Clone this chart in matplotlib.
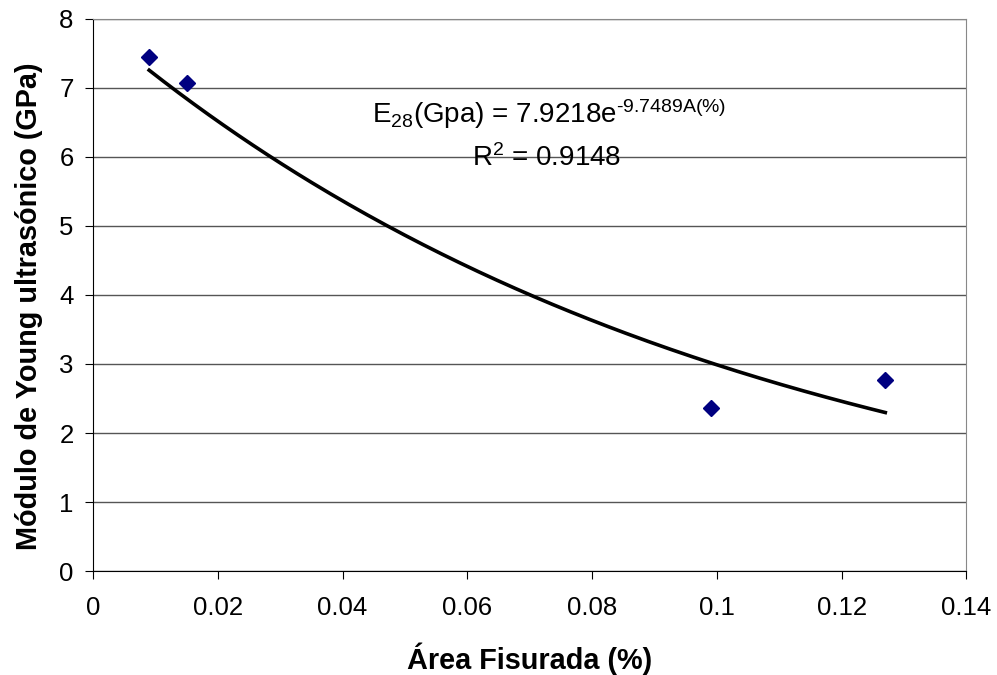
import numpy as np
import matplotlib
matplotlib.use("Agg")
import matplotlib.pyplot as plt

area = [0.009, 0.015, 0.099, 0.127]
young = [7.45, 7.07, 2.36, 2.77]
fit_a = 7.9218
fit_b = -9.7489
r2 = 0.9148
xticks = [0, 0.02, 0.04, 0.06, 0.08, 0.1, 0.12, 0.14]
xticklabels = ["0", "0.02", "0.04", "0.06", "0.08", "0.1", "0.12", "0.14"]
yticks = [0, 1, 2, 3, 4, 5, 6, 7, 8]

plt.rcParams['font.family'] = ['Liberation Sans', 'DejaVu Sans']
plt.rcParams['mathtext.fontset'] = 'custom'
plt.rcParams['mathtext.rm'] = 'Liberation Sans'
plt.rcParams['mathtext.it'] = 'Liberation Sans'
plt.rcParams['mathtext.bf'] = 'Liberation Sans:bold'
plt.rcParams['mathtext.default'] = 'regular'

fig = plt.figure(figsize=(9.97, 6.75), dpi=100)
ax = fig.add_axes([0.0933, 0.154, 0.876, 0.818])

xfit = np.linspace(min(area), max(area), 200)
ax.plot(xfit, fit_a * np.exp(fit_b * xfit), color='black', lw=2.6, zorder=3)
ax.plot(area, young, linestyle='none', marker='D', color='#000080', ms=8.5, zorder=4)

ax.set_xlim(0, 0.14)
ax.set_ylim(0, 8)
ax.set_xticks(xticks)
ax.set_xticklabels(xticklabels, fontsize=18.5)
ax.set_yticks(yticks)
ax.set_yticklabels([str(v) for v in yticks], fontsize=18.5)
ax.yaxis.grid(True, color='#555555', lw=1)
ax.set_axisbelow(True)
for s in ['top', 'right']:
    ax.spines[s].set_color('#888888')
ax.spines['left'].set_color('black')
ax.spines['bottom'].set_color('black')
ax.tick_params(axis='both', direction='out', length=6, color='black')
ax.tick_params(axis='x', pad=12)
ax.tick_params(axis='y', pad=8)

ax.set_xlabel("Área Fisurada (%)", fontsize=20.8, fontweight='bold', labelpad=16)
ax.set_ylabel("Módulo de Young ultrasónico (GPa)", fontsize=20.8, fontweight='bold')
ax.yaxis.set_label_coords(-0.057, 0.48)

ax.text(0.0447, 6.62, r"E$_{28}$(Gpa) = %.4fe$^{\text{%.4fA(\%%)}}$" % (fit_a, fit_b),
        fontsize=20, ha='left', va='center')
ax.text(0.0608, 5.98, r"R$^{2}$ = %.4f" % r2, fontsize=20, ha='left', va='center')

fig.savefig("out.png", dpi=100)
